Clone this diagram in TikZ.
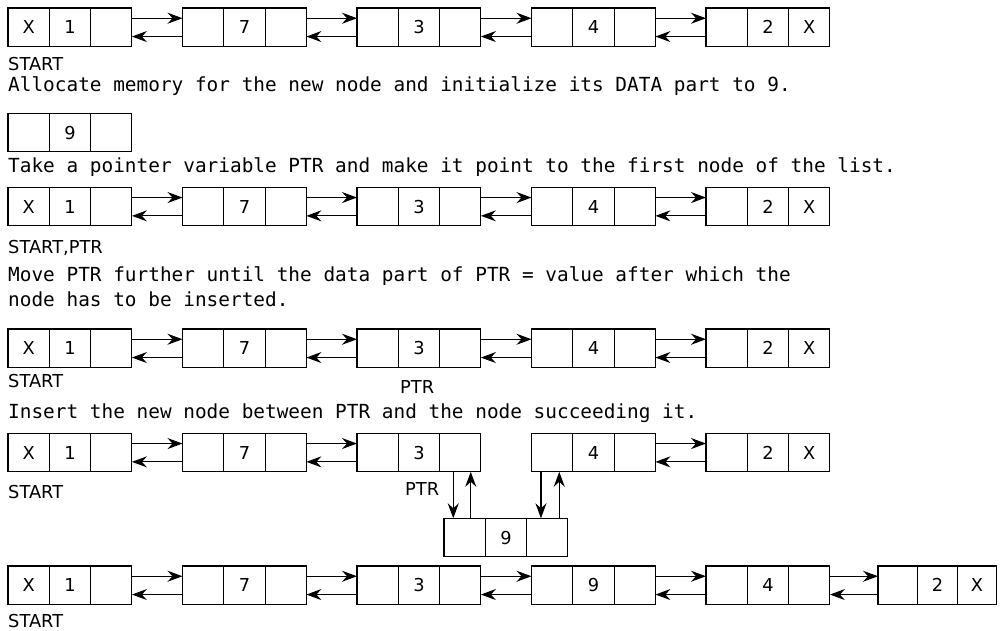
\documentclass[tikz,border=0pt]{standalone}
\usepackage{fontspec}
\setmainfont{DejaVu Sans}
\newfontfamily\monof{DejaVu Sans Mono}
\usetikzlibrary{arrows.meta}
\tikzset{
 cell/.style={draw, line width=1.1pt, minimum width=41.3pt, minimum height=38.5pt, inner sep=0pt, outer sep=0pt, font=\fontsize{17.8}{20}\selectfont},
 arr/.style={line width=1.1pt, -{Stealth[length=15pt,width=11pt,inset=5pt]}},
 lbl/.style={anchor=base west, inner sep=0pt, font=\fontsize{17.8}{20}\selectfont},
 txt/.style={anchor=base west, inner sep=0pt, font=\monof\fontsize{19.4}{24}\selectfont},
}
\newcommand{\dllnode}[6]{%
 \node[cell, anchor=north west] (#1a) at (#2,#3) {#4};
 \node[cell, anchor=west] (#1b) at (#1a.east) {#5};
 \node[cell, anchor=west] (#1c) at (#1b.east) {#6};
}
\newcommand{\dlink}[2]{%
 \draw[arr] ([yshift=9pt]#1c.east) -- ([yshift=9pt]#2a.west);
 \draw[arr] ([yshift=-9.3pt]#2a.west) -- ([yshift=-9.3pt]#1c.east);
}
\begin{document}
\begin{tikzpicture}[x=1pt,y=-1pt]
\useasboundingbox (0,0) rectangle (1000,631);
% row 1
\dllnode{ra1}{8}{8}{X}{1}{}
\dllnode{ra2}{182.5}{8}{}{7}{}
\dllnode{ra3}{357}{8}{}{3}{}
\dllnode{ra4}{531.5}{8}{}{4}{}
\dllnode{ra5}{706}{8}{}{2}{X}
\dlink{ra1}{ra2}\dlink{ra2}{ra3}\dlink{ra3}{ra4}\dlink{ra4}{ra5}
\node[lbl] (s1) at (8,70.7) {START};
\node[txt] (t1) at (8,91.7) {Allocate memory for the new node and initialize its DATA part to 9.};
% row 2
\dllnode{rb}{8}{113.3}{}{9}{}
\node[txt] (t2) at (8,172) {Take a pointer variable PTR and make it point to the first node of the list.};
% row 3
\dllnode{rc1}{8}{187.3}{X}{1}{}
\dllnode{rc2}{182.5}{187.3}{}{7}{}
\dllnode{rc3}{357}{187.3}{}{3}{}
\dllnode{rc4}{531.5}{187.3}{}{4}{}
\dllnode{rc5}{706}{187.3}{}{2}{X}
\dlink{rc1}{rc2}\dlink{rc2}{rc3}\dlink{rc3}{rc4}\dlink{rc4}{rc5}
\node[lbl] (s3) at (8,253.3) {START,PTR};
\node[txt] (t3a) at (8,281.7) {Move PTR further until the data part of PTR = value after which the};
\node[txt] (t3b) at (8,306) {node has to be inserted.};
% row 4
\dllnode{rd1}{8}{329}{X}{1}{}
\dllnode{rd2}{182.5}{329}{}{7}{}
\dllnode{rd3}{357}{329}{}{3}{}
\dllnode{rd4}{531.5}{329}{}{4}{}
\dllnode{rd5}{706}{329}{}{2}{X}
\dlink{rd1}{rd2}\dlink{rd2}{rd3}\dlink{rd3}{rd4}\dlink{rd4}{rd5}
\node[lbl] (s4) at (8,387) {START};
\node[lbl] (p4) at (400,393) {PTR};
\node[txt] (t4) at (8,418) {Insert the new node between PTR and the node succeeding it.};
% row 5
\dllnode{re1}{8}{433.3}{X}{1}{}
\dllnode{re2}{182.5}{433.3}{}{7}{}
\dllnode{re3}{357}{433.3}{}{3}{}
\dllnode{re4}{531.5}{433.3}{}{4}{}
\dllnode{re5}{706}{433.3}{}{2}{X}
\dlink{re1}{re2}\dlink{re2}{re3}\dlink{re4}{re5}
\node[lbl] (s5) at (8,498.3) {START};
\node[lbl] (p5) at (405,495) {PTR};
\dllnode{nn}{444}{518.3}{}{9}{}
\draw[arr] ([xshift=-7pt]re3c.south) -- ([xshift=-7pt]re3c.south |- nna.north);
\draw[arr] ([xshift=10.5pt]re3c.south |- nna.north) -- ([xshift=10.5pt]re3c.south);
\draw[arr] ([xshift=-11.2pt]re4a.south) -- ([xshift=-11.2pt]re4a.south |- nnc.north);
\draw[arr] ([xshift=7.1pt]re4a.south |- nnc.north) -- ([xshift=7.1pt]re4a.south);
% row 6
\dllnode{rf1}{8}{566}{X}{1}{}
\dllnode{rf2}{182.5}{566}{}{7}{}
\dllnode{rf3}{357}{566}{}{3}{}
\dllnode{rf4}{531.5}{566}{}{9}{}
\dllnode{rf5}{706}{566}{}{4}{}
\node[cell, minimum width=39.6pt, anchor=north west] (rf6a) at (878,566) {};
\node[cell, minimum width=39.6pt, anchor=west] (rf6b) at (rf6a.east) {2};
\node[cell, minimum width=39.6pt, anchor=west] (rf6c) at (rf6b.east) {X};
\dlink{rf1}{rf2}\dlink{rf2}{rf3}\dlink{rf3}{rf4}\dlink{rf4}{rf5}\dlink{rf5}{rf6}
\node[lbl] (s6) at (8,627) {START};
\end{tikzpicture}
\end{document}
